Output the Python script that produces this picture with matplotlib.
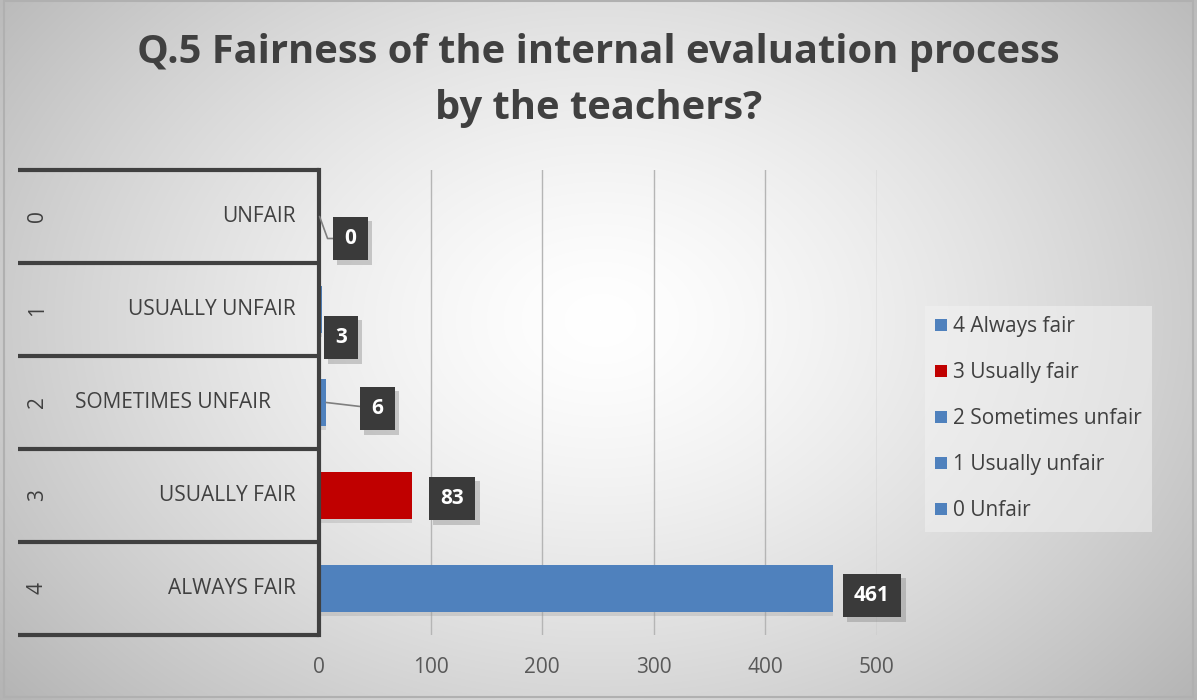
import numpy as np
import matplotlib
matplotlib.use("Agg")
from matplotlib import pyplot as plt
from matplotlib import patheffects
from matplotlib.patches import Patch, Rectangle

plt.rcParams['font.family'] = ['Open Sans', 'DejaVu Sans']

# data
codes = ["0", "1", "2", "3", "4"]
categories = ["UNFAIR", "USUALLY UNFAIR", "SOMETIMES UNFAIR", "USUALLY FAIR", "ALWAYS FAIR"]
values = [0, 3, 6, 83, 461]
legend_labels = ["4 Always fair", "3 Usually fair", "2 Sometimes unfair", "1 Usually unfair", "0 Unfair"]

blue = "#4f81bd"
red = "#c00000"
bar_colors = [blue, blue, blue, red, blue]
legend_colors = [blue, red, blue, blue, blue]
txt_col = "#404040"

W, H = 1197, 700
fig = plt.figure(figsize=(W / 100, H / 100), dpi=100)

# radial grey background
bg = fig.add_axes([0, 0, 1, 1], zorder=-10)
yy, xx = np.mgrid[0:H, 0:W]
r = np.sqrt(((xx - 600) / 700.0) ** 2 + ((yy - 320) / 520.0) ** 2)
shade = 1.0 - 0.25 * np.clip(r, 0, 1.2) ** 1.4
bg.imshow(np.dstack([shade] * 3), extent=[0, W, H, 0], aspect="auto")
bg.add_patch(Rectangle((4, 1), 1189, 696, fill=False, edgecolor="#b0b0b0", lw=1.5))
bg.set_xlim(0, W)
bg.set_ylim(H, 0)
bg.axis("off")

ax = fig.add_axes([319 / W, 1 - 635 / H, 558 / W, 465 / H])
ax.set_facecolor("none")

ypos = np.arange(len(values))
bars = ax.barh(ypos, values, height=0.5, color=bar_colors, zorder=3)
for b in bars:
    b.set_path_effects([patheffects.withSimplePatchShadow(offset=(0, -3), shadow_rgbFace="#999999", alpha=0.3),
                        patheffects.Normal()])

ax.set_xlim(0, 500)
ax.set_ylim(4.5, -0.5)
ax.set_xticks([0, 100, 200, 300, 400, 500])
ax.tick_params(axis="x", length=0, labelsize=15, labelcolor="#595959", pad=16)
ax.set_yticks([])
ax.grid(axis="x", color="#b5b5b5", lw=1, zorder=0)
for s in ["top", "right", "bottom"]:
    ax.spines[s].set_visible(False)
ax.spines["left"].set_color("#404040")
ax.spines["left"].set_linewidth(3)
ax.spines["left"].set_zorder(4)

# multi-level category axis
ytr = ax.get_yaxis_transform()
for yb in np.arange(-0.5, 5.0, 1.0):
    ax.plot([-0.54, 0], [yb, yb], transform=ytr, color="#404040", lw=3, clip_on=False,
            solid_capstyle="butt", zorder=4)
for i in range(len(values)):
    if categories[i] == "SOMETIMES UNFAIR":
        ax.text(-0.262, i, categories[i], transform=ytr, ha="center", va="center",
                fontsize=15, color=txt_col)
    else:
        ax.text(-0.041, i, categories[i], transform=ytr, ha="right", va="center",
                fontsize=15, color=txt_col)
    ax.text(-0.505, i, codes[i], transform=ytr, ha="center", va="center",
            fontsize=15, color=txt_col, rotation=90)

# data labels (offsets in pixels from bar end)
offsets = [(31, -22), (18, -28), (51, -6), (40, -3), (38, -7)]
for i in range(len(values)):
    ap = None
    if i == 0:
        ap = dict(arrowstyle="-", color="#7f7f7f", lw=1.2, shrinkA=0, shrinkB=0,
                  connectionstyle="angle,angleA=0,angleB=-70,rad=0")
    elif i == 2:
        ap = dict(arrowstyle="-", color="#7f7f7f", lw=1.2, shrinkA=0, shrinkB=0)
    ann = ax.annotate(str(values[i]), xy=(values[i] + 0.5, i), xytext=offsets[i], textcoords="offset pixels",
                      ha="center", va="center", fontsize=15, fontweight="bold", color="white",
                      bbox=dict(boxstyle="square,pad=0.55", fc="#3a3a3a", ec="none"),
                      arrowprops=ap, zorder=6, annotation_clip=False)
    ann.get_bbox_patch().set_path_effects([
        patheffects.withSimplePatchShadow(offset=(3, -3), shadow_rgbFace="#777777", alpha=0.35),
        patheffects.Normal()])

# title
fig.text(0.5, 1 - 52 / H, "Q.5 Fairness of the internal evaluation process", ha="center", va="center",
         fontsize=28.7, fontweight="bold", color="#404040")
fig.text(0.5, 1 - 108 / H, "by the teachers?", ha="center", va="center",
         fontsize=28.7, fontweight="bold", color="#404040")

# legend
handles = [Patch(facecolor=c, edgecolor="none") for c in legend_colors]
leg = fig.legend(handles, legend_labels, loc="upper left", bbox_to_anchor=(925 / W, 1 - 306 / H),
                 frameon=True, fontsize=15, labelcolor=txt_col, handlelength=0.55, handleheight=0.55,
                 handletextpad=0.3, labelspacing=1.2, borderpad=0.5, borderaxespad=0, fancybox=False)
leg.get_frame().set_facecolor("#f2f2f2")
leg.get_frame().set_alpha(0.55)
leg.get_frame().set_edgecolor("none")

fig.savefig("out.png", dpi=100)
